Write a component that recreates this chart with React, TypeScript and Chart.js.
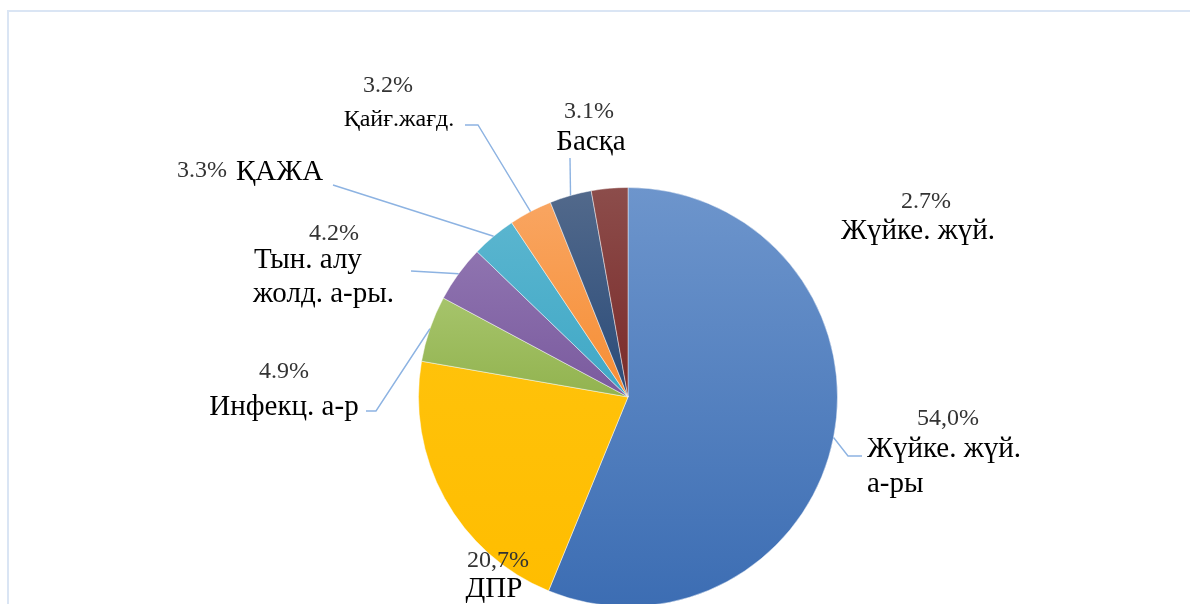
import React, { useEffect, useRef } from "react";
import { Chart, registerables } from "chart.js";

Chart.register(...registerables);

// ---------- data ----------
const categories = [
  "Жүйке. жүй. а-ры",
  "ДПР",
  "Инфекц. а-р",
  "Тын. алу жолд. а-ры.",
  "ҚАЖА",
  "Қайғ.жағд.",
  "Басқа",
  "Жүйке. жүй.",
];
const values = [54.0, 20.7, 4.9, 4.2, 3.3, 3.2, 3.1, 2.7];
const percentLabels = ["54,0%", "20,7%", "4.9%", "4.2%", "3.3%", "3.2%", "3.1%", "2.7%"];
const nameLines = [
  ["Жүйке. жүй.", "а-ры"],
  ["ДПР"],
  ["Инфекц. а-р"],
  ["Тын. алу", "жолд. а-ры."],
  ["ҚАЖА"],
  ["Қайғ.жағд."],
  ["Басқа"],
  ["Жүйке. жүй."],
];

// ---------- style ----------
const colorTop = ["#6d95cc", "#ffc20a", "#a6c46b", "#8f74b0", "#5ab5cf", "#f9a561", "#52698b", "#8c4d4b"];
const colorBottom = ["#3c6db3", "#ffbd00", "#92b34f", "#7a5a9e", "#3fa8c6", "#f68e34", "#2a4b79", "#7a2a29"];

const FONT = '"Liberation Serif", "Times New Roman", serif';
const PCT_COLOR = "#333333";
const NAME_COLOR = "#000000";
const LEADER_COLOR = "#8db3e2";

type TextItem = { dx: number; dy: number; align: CanvasTextAlign; size: number };
type Layout = { pct: TextItem; names: TextItem[]; leader: [number, number][] };

// offsets relative to the pie centre (dy = text baseline)
const layout: Layout[] = [
  {
    pct: { dx: 320, dy: 28, align: "center", size: 24 },
    names: [
      { dx: 239, dy: 60, align: "left", size: 29 },
      { dx: 239, dy: 95, align: "left", size: 29 },
    ],
    leader: [[220, 59], [234, 59]],
  },
  {
    pct: { dx: -130, dy: 170, align: "center", size: 24 },
    names: [{ dx: -134, dy: 200, align: "center", size: 29 }],
    leader: [],
  },
  {
    pct: { dx: -344, dy: -19, align: "center", size: 24 },
    names: [{ dx: -344, dy: 18, align: "center", size: 29 }],
    leader: [[-252, 14], [-262, 14]],
  },
  {
    pct: { dx: -294, dy: -157, align: "center", size: 24 },
    names: [
      { dx: -374, dy: -129, align: "left", size: 29 },
      { dx: -375, dy: -95, align: "left", size: 29 },
    ],
    leader: [[-217, -126]],
  },
  {
    pct: { dx: -451, dy: -220, align: "left", size: 24 },
    names: [{ dx: -392, dy: -217, align: "left", size: 29 }],
    leader: [[-295, -212]],
  },
  {
    pct: { dx: -240, dy: -305, align: "center", size: 24 },
    names: [{ dx: -229, dy: -271, align: "center", size: 24 }],
    leader: [[-150, -272], [-163, -272]],
  },
  {
    pct: { dx: -39, dy: -279, align: "center", size: 24 },
    names: [{ dx: -37, dy: -247, align: "center", size: 29 }],
    leader: [[-58, -239]],
  },
  {
    pct: { dx: 298, dy: -189, align: "center", size: 24 },
    names: [{ dx: 290, dy: -158, align: "center", size: 29 }],
    leader: [],
  },
];

const CANVAS_W = 1190;
const CANVAS_H = 820;

const sliceGradient = (c: any) => {
  const chart = c.chart;
  const i = c.dataIndex;
  const area = chart.chartArea;
  if (!area || i === undefined) return colorTop[i ?? 0];
  const cx = (area.left + area.right) / 2;
  const cy = (area.top + area.bottom) / 2;
  const r = Math.min(area.width, area.height) / 2;
  const total = values.reduce((a, b) => a + b, 0);
  let cum = 0;
  for (let k = 0; k < i; k++) cum += values[k];
  const a0 = -Math.PI / 2 + (2 * Math.PI * cum) / total;
  const a1 = a0 + (2 * Math.PI * values[i]) / total;
  const ys = [cy, cy + r * Math.sin(a0), cy + r * Math.sin(a1)];
  const inRange = (a: number) => {
    for (let t = a - 4 * Math.PI; t <= a + 4 * Math.PI; t += 2 * Math.PI) {
      if (t >= a0 - 1e-9 && t <= a1 + 1e-9) return true;
    }
    return false;
  };
  if (inRange(Math.PI / 2)) ys.push(cy + r);
  if (inRange(-Math.PI / 2)) ys.push(cy - r);
  const y0 = Math.min(...ys);
  const y1 = Math.max(...ys);
  const g = chart.ctx.createLinearGradient(0, y0, 0, y1 === y0 ? y0 + 1 : y1);
  g.addColorStop(0, colorTop[i]);
  g.addColorStop(1, colorBottom[i]);
  return g;
};

const labelPlugin = {
  id: "sliceLabels",
  afterDatasetsDraw(chart: any) {
    const ctx: CanvasRenderingContext2D = chart.ctx;
    const meta = chart.getDatasetMeta(0);
    ctx.save();
    meta.data.forEach((arc: any, i: number) => {
      const p = arc.getProps(["x", "y", "startAngle", "endAngle", "outerRadius"], true);
      const mid = (p.startAngle + p.endAngle) / 2;
      const lay = layout[i];
      if (lay.leader.length) {
        ctx.beginPath();
        ctx.strokeStyle = LEADER_COLOR;
        ctx.lineWidth = 1.4;
        ctx.moveTo(p.x + Math.cos(mid) * p.outerRadius, p.y + Math.sin(mid) * p.outerRadius);
        lay.leader.forEach(([dx, dy]) => ctx.lineTo(p.x + dx, p.y + dy));
        ctx.stroke();
      }
      ctx.textBaseline = "alphabetic";
      ctx.fillStyle = PCT_COLOR;
      ctx.font = `${lay.pct.size}px ${FONT}`;
      ctx.textAlign = lay.pct.align;
      ctx.fillText(percentLabels[i], p.x + lay.pct.dx, p.y + lay.pct.dy);
      ctx.fillStyle = NAME_COLOR;
      nameLines[i].forEach((line, j) => {
        const t = lay.names[j];
        ctx.font = `${t.size}px ${FONT}`;
        ctx.textAlign = t.align;
        ctx.fillText(line, p.x + t.dx, p.y + t.dy);
      });
    });
    ctx.restore();
  },
};

export default function App() {
  const ref = useRef<HTMLCanvasElement | null>(null);

  useEffect(() => {
    if (!ref.current) return;
    const chart = new Chart(ref.current, {
      type: "pie",
      data: {
        labels: categories,
        datasets: [
          {
            data: values,
            backgroundColor: sliceGradient as any,
            borderColor: "rgba(255,255,255,0.45)",
            borderWidth: 1,
          },
        ],
      },
      options: {
        responsive: false,
        maintainAspectRatio: false,
        devicePixelRatio: 1,
        animation: false,
        layout: { padding: { left: 418, right: 352, top: 187, bottom: 213 } },
        plugins: {
          legend: { display: false },
          tooltip: { enabled: false },
          title: { display: false },
        },
      },
      plugins: [labelPlugin],
    });
    return () => chart.destroy();
  }, []);

  return (
    <div
      style={{
        position: "absolute",
        left: 0,
        top: 0,
        width: CANVAS_W,
        height: 604,
        overflow: "hidden",
        background: "#ffffff",
      }}
    >
      <div
        style={{
          position: "absolute",
          left: 7,
          top: 10,
          width: 1300,
          height: 800,
          borderTop: "2px solid #dae5f4",
          borderLeft: "2px solid #dae5f4",
        }}
      />
      <canvas
        ref={ref}
        width={CANVAS_W}
        height={CANVAS_H}
        style={{ position: "absolute", left: 0, top: 0, width: CANVAS_W, height: CANVAS_H }}
      />
    </div>
  );
}
